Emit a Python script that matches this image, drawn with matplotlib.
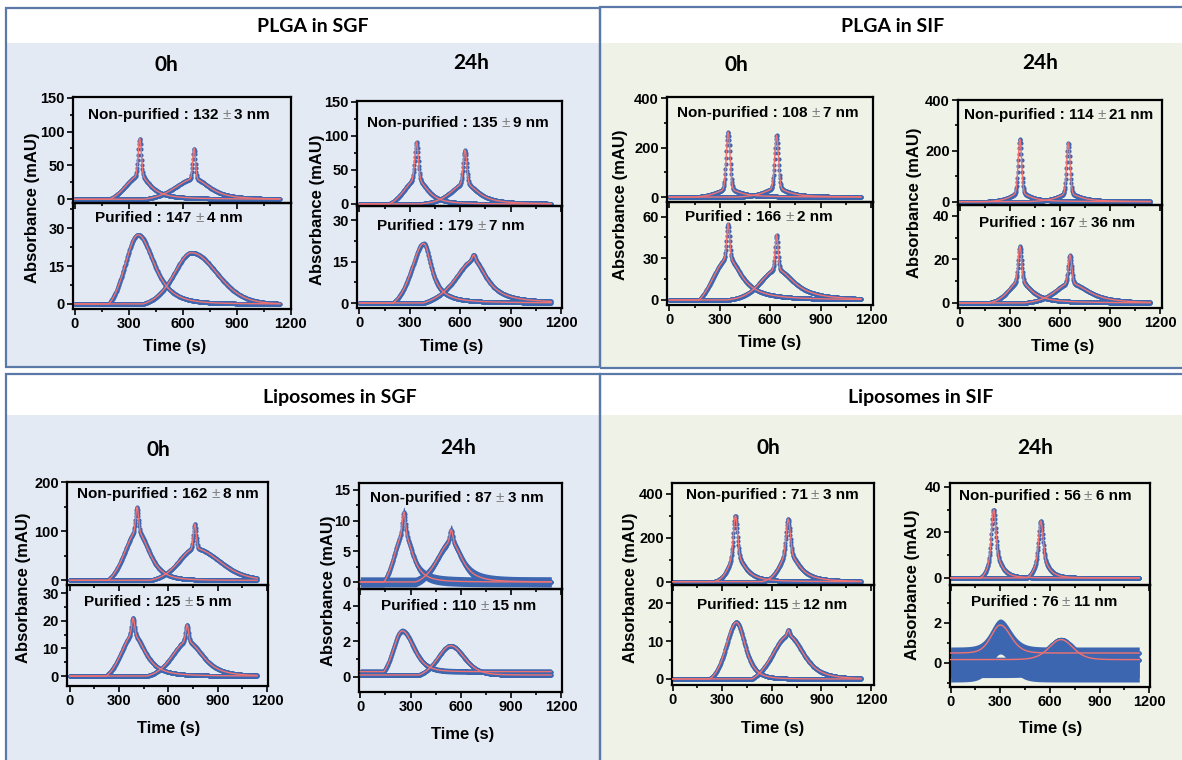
import numpy as np
import matplotlib
matplotlib.use('Agg')
import matplotlib.pyplot as plt
from matplotlib.patches import Rectangle
from matplotlib.ticker import MultipleLocator

plt.rcParams['font.family'] = ['Liberation Sans', 'DejaVu Sans']

W, H = 1182, 760

# ---------------- data ----------------
panel_titles = ['PLGA in SGF', 'PLGA in SIF', 'Liposomes in SGF', 'Liposomes in SIF']
hours = ['0h', '24h', '0h', '24h', '0h', '24h', '0h', '24h']

nonpur_mean = [132, 135, 108, 114, 162, 87, 71, 56]
nonpur_sd = [3, 9, 7, 21, 8, 3, 3, 6]
pur_prefix = ['Purified :'] * 6 + ['Purified:', 'Purified :']
pur_mean = [147, 179, 166, 167, 125, 110, 115, 76]
pur_sd = [4, 7, 2, 36, 5, 15, 12, 11]

# peak fit parameters, one row per sub-plot (non-purified, purified for each column), two peaks each
peak_center = [[361, 663], [352, 649], [340, 628], [383, 680],
               [350, 638], [350, 638], [360, 650], [360, 660],
               [410, 761], [386, 714], [260, 543], [250, 540],
               [380, 699], [386, 700], [260, 545], [300, 667]]
peak_height = [[35, 30], [27.4, 20.3], [36, 30], [21.6, 15.5],
               [32, 36], [30, 22], [35, 32], [10, 9],
               [100, 65], [15, 12.5], [8, 6.5], [2.3, 1.65],
               [120, 130], [15, 11.5], [12, 10], [1.4, 1.0]]
width_left = [[96, 128], [89, 119], [90, 100], [90, 140],
              [90, 90], [110, 113], [70, 80], [80, 110],
              [95, 120], [90, 110], [70, 100], [65, 95],
              [50, 60], [75, 120], [35, 40], [65, 85]]
width_right = [[70, 102], [103, 165], [75, 90], [56, 92],
               [80, 80], [95, 122], [70, 80], [80, 130],
               [85, 175], [85, 110], [60, 75], [80, 95],
               [65, 75], [62, 105], [45, 45], [75, 85]]
shape_left = [[6, 3], [4, 3], [4, 2], [2, 1.5],
              [1, 1], [6, 3], [1, 1], [3, 2],
              [3, 3], [3, 3], [3, 3], [5, 4],
              [2, 2], [4, 3], [1.5, 1.5], [5, 5]]
shape_right = [[1, 1.5], [2, 10], [1.5, 1.2], [1, 1],
               [1, 1], [1, 1.2], [1, 1], [1, 1.5],
               [2, 6], [1.5, 2], [1.5, 1.5], [3, 4],
               [1.2, 1.2], [2, 2], [1.5, 1.5], [5, 5]]
onset = [[194, 380], [190, 380], [177, 360], [200, 380],
         [150, 400], [177, 340], [150, 400], [170, 380],
         [233, 487], [223, 470], [141, 330], [141, 350],
         [250, 537], [224, 480], [180, 460], [0, 0]]
spike_height = [[55, 45], [0, 0], [55, 49], [0, 2],
                [231, 214], [25, 25], [210, 200], [16, 13],
                [50, 50], [6, 6], [3.4, 2], [0, 0],
                [180, 155], [0, 1.5], [18, 15], [0, 0]]
spike_width = [[10, 9], [10, 10], [12, 12], [10, 10],
               [13, 13], [10, 10], [12, 12], [12, 12],
               [10, 10], [10, 10], [10, 10], [10, 10],
               [14, 14], [8, 8], [14, 14], [10, 10]]
baseline = [[0, 0]] * 11 + [[0.28, 0.09]] + [[0, 0]] * 3 + [[0.5, 0.17]]
noise_low = [[0, 0]] * 10 + [[0.8, 0.8], [0.16, 0.12]] + [[0, 0]] * 3 + [[1.45, 0.9]]
noise_high = [[0, 0]] * 10 + [[0.8, 0.8], [0.16, 0.12]] + [[0, 0]] * 3 + [[0.3, 0.12]]

x_ticks = [0, 300, 600, 900, 1200]
y_ticks = [[0, 50, 100, 150], [0, 15, 30], [0, 50, 100, 150], [0, 15, 30],
           [0, 200, 400], [0, 30, 60], [0, 200, 400], [0, 20, 40],
           [0, 100, 200], [0, 10, 20, 30], [0, 5, 10, 15], [0, 2, 4],
           [0, 200, 400], [0, 10, 20], [0, 20, 40], [0, 2]]
y_minor = [25, 7.5, 25, 7.5, 100, 15, 100, 10, 50, 5, 2.5, 1, 100, 5, 10, 1]

# ---------------- layout (pixels) ----------------
ax_left = [73, 357, 667, 958, 67, 359, 672, 950]
ax_right = [291, 562, 873, 1162, 268, 562, 874, 1150]
ax_top = [97, 101, 97, 100, 482, 483, 483, 483]
ax_mid = [203, 206, 202, 205, 585, 589, 585, 585]
ax_bottom = [309, 308, 305, 308, 686, 692, 685, 687]
x_lims = [(-10, 1202), (-14, 1205), (-14, 1212), (-10, 1210),
          (-16, 1206), (-8, 1205), (-4, 1218), (-4, 1205)]
y_lims = [(-5.5, 151), (-2, 40), (-3, 151), (-1.8, 35.2),
          (-20, 405), (-3.6, 70.5), (-13, 400), (-2.3, 44.9),
          (-9.6, 201), (-3.6, 32.9), (-1.14, 16.1), (-0.87, 4.94),
          (-15, 449), (-1.6, 24.9), (-3.1, 41.7), (-1.2, 3.9)]

title_pos = [(313, 27), (893, 27), (340, 397), (921, 397)]
hour_pos = [(166, 65), (471, 63), (736, 65), (1040, 63),
            (158, 450), (458, 448), (768, 448), (1035, 448)]
ylab_pos = [(33, 208), (318, 210), (620, 205), (915, 203),
            (24, 588), (329, 591), (630, 588), (913, 585)]
xlab_pos = [(175, 347), (452, 347), (770, 343), (1063, 347),
            (169, 728), (463, 735), (773, 728), (1051, 728)]
top_note_pos = [(179, 115), (458, 123), (768, 113), (1059, 115),
                (168, 494), (457, 498), (772, 495), (1045, 496)]
bot_note_pos = [(169, 218), (451, 226), (759, 217), (1057, 223),
                (158, 602), (459, 606), (772, 605), (1044, 602)]

blue = '#3d66b0'
red = '#f07272'
bg_blue = '#e4eaf4'
bg_green = '#eff2e7'
frame = '#5a78a8'


def peak(t, c, h, wl, wr, pl, pr, on, hs, ws):
    d = t - c
    w = np.where(d < 0, wl, wr)
    p = np.where(d < 0, pl, pr)
    shape = lambda dd, ww, pp: (1 + (2 ** (1 / pp) - 1) * (dd / ww) ** 2) ** (-pp)
    f = shape(d, w, p)
    # left flank starts from zero at the onset time
    f_on = shape(on - c, wl, pl)
    f = np.where(d < 0, (f - f_on) / (1 - f_on), f)
    broad = h * np.clip(f, 0, None)
    broad[t < on] = 0
    spike = hs * np.exp(-np.log(2) * (d / ws) ** 2)
    return broad + spike


def fbox(x0, y0, x1, y1, **kw):
    return Rectangle((x0 / W, 1 - y1 / H), (x1 - x0) / W, (y1 - y0) / H,
                     transform=fig.transFigure, **kw)


fig = plt.figure(figsize=(W / 100, H / 100), dpi=100)

# panel backgrounds
panels = [(6, 8, 599.5, 367, 43.3, bg_blue), (599.5, 7.3, 1190, 368.3, 43.3, bg_green),
          (6, 374, 599.5, 770, 415, bg_blue), (599.5, 374, 1190, 770, 415, bg_green)]
for x0, y0, x1, y1, yb, col in panels:
    fig.patches.append(fbox(x0, y0, x1, y1, facecolor='white', edgecolor='none', zorder=-10))
    fig.patches.append(fbox(x0, yb, x1, y1, facecolor=col, edgecolor='none', zorder=-9))
    fig.patches.append(fbox(x0, y0, x1, y1, facecolor='none', edgecolor=frame, lw=1.6, zorder=-8))

for p, (x, y) in zip(panel_titles, title_pos):
    fig.text(x / W, 1 - y / H, p, family=['Lato', 'DejaVu Sans'], fontweight='bold',
             fontsize=14, ha='center', va='center')

t_fit = np.arange(0, 1141, 1.0)
t_dat = np.arange(0, 1141, 2.0)

for k in range(8):
    for j in range(2):
        row = 2 * k + j
        top_px = ax_top[k] if j == 0 else ax_mid[k]
        bot_px = ax_mid[k] if j == 0 else ax_bottom[k]
        ax = fig.add_axes([ax_left[k] / W, 1 - bot_px / H,
                           (ax_right[k] - ax_left[k]) / W, (bot_px - top_px) / H])
        ax.set_facecolor('none')
        fits = []
        for i in range(2):
            args = (peak_center[row][i], peak_height[row][i], width_left[row][i],
                    width_right[row][i], shape_left[row][i], shape_right[row][i],
                    onset[row][i], spike_height[row][i], spike_width[row][i])
            yf = baseline[row][i] + peak(t_fit, *args)
            yd = baseline[row][i] + peak(t_dat, *args)
            if noise_low[row][i] > 0:
                ax.fill_between(t_fit, yf - noise_low[row][i], yf + noise_high[row][i],
                                color=blue, lw=0, zorder=1)
            ax.plot(t_dat, yd, 'o', color=blue, ms=3.0, mew=0, zorder=2)
            fits.append(yf)
        for yf in fits:
            ax.plot(t_fit, yf, color=red, lw=1.0, zorder=3)

        ax.set_xlim(x_lims[k])
        ax.set_ylim(y_lims[row])
        ax.set_xticks(x_ticks)
        ax.xaxis.set_minor_locator(MultipleLocator(150))
        ax.set_yticks(y_ticks[row])
        ax.yaxis.set_minor_locator(MultipleLocator(y_minor[row]))
        if j == 0:
            ax.set_xticklabels([])
        else:
            ax.set_xticklabels([str(v) for v in x_ticks], fontweight='bold', fontsize=10.5)
        ax.set_yticklabels([str(v) for v in y_ticks[row]], fontweight='bold', fontsize=10.5)
        ax.tick_params(which='both', direction='out', width=1.2, top=False, right=False, pad=2)
        ax.tick_params(which='major', length=4)
        ax.tick_params(which='minor', length=2.5)
        for s in ax.spines.values():
            s.set_linewidth(1.6)

    fig.text(hour_pos[k][0] / W, 1 - hour_pos[k][1] / H, hours[k], family=['Lato', 'DejaVu Sans'],
             fontweight='bold', fontsize=15, ha='center', va='center')
    fig.text(ylab_pos[k][0] / W, 1 - ylab_pos[k][1] / H, 'Absorbance (mAU)', rotation=90,
             fontweight='bold', fontsize=12, ha='center', va='center')
    fig.text(xlab_pos[k][0] / W, 1 - xlab_pos[k][1] / H, 'Time (s)',
             fontweight='bold', fontsize=12, ha='center', va='center')

# size annotations, with a grey plus-minus sign
renderer = fig.canvas.get_renderer()


def note(pos, pre, post):
    t1 = fig.text(0, 0, pre, fontsize=11, fontweight='bold', va='baseline')
    t2 = fig.text(0, 0, '\u00b1', fontsize=11, color='#808080', va='baseline')
    t3 = fig.text(0, 0, post, fontsize=11, fontweight='bold', va='baseline')
    ws = [t.get_window_extent(renderer).width for t in (t1, t2, t3)]
    gap = 3.5
    x0 = pos[0] - (sum(ws) + 2 * gap) / 2
    yb = 1 - (pos[1] + 4) / H
    t1.set_position((x0 / W, yb))
    t2.set_position(((x0 + ws[0] + gap) / W, yb))
    t3.set_position(((x0 + ws[0] + ws[1] + 2 * gap) / W, yb))


for k in range(8):
    note(top_note_pos[k], 'Non-purified : %d' % nonpur_mean[k], '%d nm' % nonpur_sd[k])
    note(bot_note_pos[k], '%s %d' % (pur_prefix[k], pur_mean[k]), '%d nm' % pur_sd[k])

fig.savefig('out.png', dpi=100)
